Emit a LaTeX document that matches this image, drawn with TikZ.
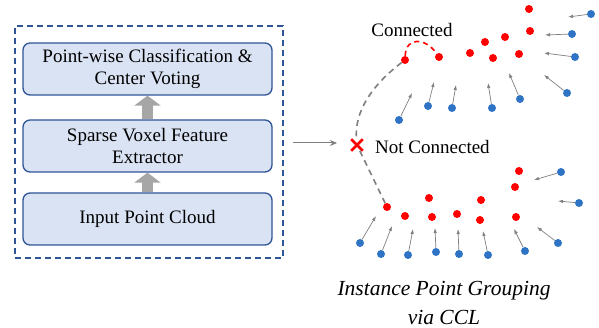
\documentclass[tikz,border=0pt]{standalone}
\usepackage{fontspec}
\setmainfont{Liberation Serif}
\usetikzlibrary{arrows.meta,shapes.misc}

\definecolor{boxfill}{HTML}{DAE3F3}
\definecolor{boxline}{HTML}{2F5597}
\definecolor{ptred}{HTML}{FF0000}
\definecolor{ptblue}{HTML}{2F74C4}
\definecolor{vecgray}{HTML}{7F7F7F}
\definecolor{blockgray}{HTML}{A6A6A6}

\tikzset{
  stage/.style={draw=boxline, line width=1.3pt, fill=boxfill, rounded corners=7pt,
    minimum width=249pt, minimum height=52pt, align=center, inner sep=0pt,
    font=\fontsize{19}{22}\selectfont},
  encoder/.style={draw=boxline, line width=1.4pt, dash pattern=on 6pt off 4pt,
    minimum width=268pt, minimum height=232pt, inner sep=0pt},
  flow/.style={draw=blockgray, line width=11pt, -{Triangle[length=10pt,width=26pt]}},
  rdot/.style={circle, fill=ptred, minimum size=8pt, inner sep=0pt},
  bdot/.style={circle, fill=ptblue, minimum size=8pt, inner sep=0pt},
  vec/.style={draw=vecgray, line width=0.7pt, -{Latex[length=5pt,width=3.5pt]}},
  gdash/.style={draw=vecgray, line width=1.6pt, dash pattern=on 6pt off 4.5pt},
  rdash/.style={draw=ptred, line width=1.6pt, dash pattern=on 5pt off 4pt},
  lbl/.style={font=\fontsize{19}{22}\selectfont, inner sep=0pt},
}

\begin{document}
\begin{tikzpicture}[x=1pt,y=-1pt]
\useasboundingbox (0,0) rectangle (599,328);

% network stages
\node[encoder] (enc) at (149,142) {};
\node[stage] (cls) at (147.5,69) {Point-wise Classification \&\\Center Voting};
\node[stage] (fea) at (147.5,146) {Sparse Voxel Feature\\Extractor};
\node[stage] (inp) at (147.5,219) {Input Point Cloud};
\draw[flow] (inp.north) -- (fea.south);
\draw[flow] (fea.north) -- (cls.south);

% arrow into the grouping step
\coordinate (a0) at (293,143);
\coordinate (a1) at (337,143);
\draw[draw=vecgray, line width=1pt, -{Stealth[length=7pt,width=6pt]}] (a0) -- (a1);

% upper instance: red centers
\foreach \n/\x/\y in {1/405/60, 2/439/57, 3/470/53, 4/485/42, 5/493/58,
                      6/505/37, 7/519/54, 8/529/9, 9/530/31}
  \node[rdot] (ru\n) at (\x,\y) {};

% upper instance: blue points with offset vectors
\foreach \n/\x/\y/\u/\v in {1/591/14/568/17, 2/572/34/545/35, 3/575/57/544/53,
    4/567/93/544/75, 5/520/99/509/73, 6/492/108/488/83, 7/452/108/456/85,
    8/428/106/434/82, 9/399/120/412/93}{
  \node[bdot] (bu\n) at (\x,\y) {};
  \coordinate (tu\n) at (\u,\v);
  \draw[vec] (bu\n) -- (tu\n);
}

% lower instance: red centers
\foreach \n/\x/\y in {1/387/207, 2/405/216, 3/429/198, 4/432/217, 5/457/214,
                      6/481/200, 7/480/220, 8/515/187, 9/519/171, 10/516/217}
  \node[rdot] (rl\n) at (\x,\y) {};

% lower instance: blue points with offset vectors
\foreach \n/\x/\y/\u/\v in {1/360/243/376/216, 2/381/254/392/226, 3/408/255/413/229,
    4/436/252/435/228, 5/459/254/458/229, 6/488/255/483/231, 7/525/251/514/229,
    8/558/243/537/227, 9/579/203/558/201, 10/561/172/534/180}{
  \node[bdot] (bl\n) at (\x,\y) {};
  \coordinate (tl\n) at (\u,\v);
  \draw[vec] (bl\n) -- (tl\n);
}

% connectivity
\node[cross out, draw=ptred, line width=2.6pt, minimum size=9pt, inner sep=0pt] (xm) at (357,145) {};
\draw[gdash] (ru1) .. controls (372,85) and (354,112) .. (xm);
\draw[gdash] (xm) -- (rl1);
\draw[rdash] (ru1) .. controls (406,36) and (426,38) .. (ru2);

\node[lbl] (con) at (412,30) {Connected};
\node[lbl, anchor=west] (ncon) at (375,147) {Not Connected};

\node[align=center, inner sep=0pt, font=\fontsize{21.5}{29}\selectfont\itshape] (cap) at (444,303)
  {Instance Point Grouping\\via CCL};
\end{tikzpicture}
\end{document}
